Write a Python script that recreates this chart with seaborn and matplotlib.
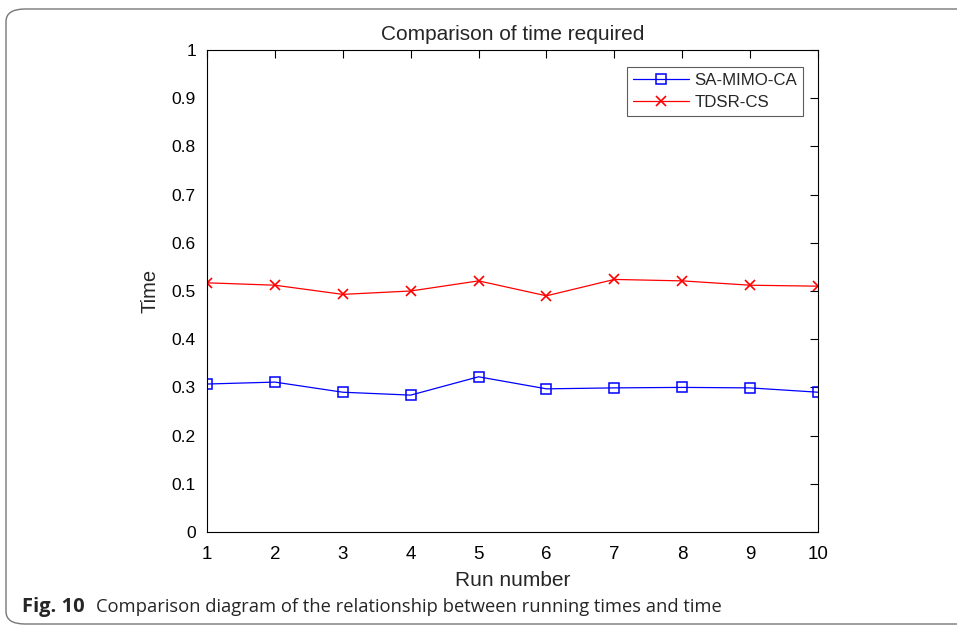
import matplotlib
matplotlib.use("Agg")
import matplotlib.pyplot as plt
from matplotlib.patches import FancyBboxPatch
import seaborn as sns
import pandas as pd

run_number = [1, 2, 3, 4, 5, 6, 7, 8, 9, 10]
sa_mimo_ca = [0.307, 0.311, 0.290, 0.284, 0.322, 0.297, 0.299, 0.300, 0.299, 0.290]
tdsr_cs = [0.517, 0.512, 0.493, 0.500, 0.521, 0.490, 0.524, 0.521, 0.512, 0.510]
y_ticks = [0, 0.1, 0.2, 0.3, 0.4, 0.5, 0.6, 0.7, 0.8, 0.9, 1]
y_tick_labels = ["0", "0.1", "0.2", "0.3", "0.4", "0.5", "0.6", "0.7", "0.8", "0.9", "1"]

sns.set_theme(style="white")
plt.rcParams["font.family"] = ["Liberation Sans", "DejaVu Sans"]

fig = plt.figure(figsize=(9.57, 6.26), dpi=100)
ax = fig.add_axes([207 / 957, 1 - 532 / 626, (818 - 207) / 957, (532 - 50) / 626])

df_a = pd.DataFrame({"run": run_number, "time": sa_mimo_ca})
df_b = pd.DataFrame({"run": run_number, "time": tdsr_cs})

sns.lineplot(data=df_a, x="run", y="time", ax=ax, color="#0000ff", lw=0.9,
             marker="s", markersize=7, markerfacecolor="none",
             markeredgecolor="#0000ff", markeredgewidth=1.1, label="SA-MIMO-CA")
sns.lineplot(data=df_b, x="run", y="time", ax=ax, color="#ff0000", lw=0.9,
             marker="x", markersize=7, markeredgecolor="#ff0000",
             markeredgewidth=1.2, label="TDSR-CS")

ax.set_xlim(1, 10)
ax.set_ylim(0, 1)
ax.set_xticks(run_number)
ax.set_xticklabels([str(r) for r in run_number])
ax.set_yticks(y_ticks)
ax.set_yticklabels(y_tick_labels)
ax.tick_params(direction="in", length=6, width=0.8, top=True, right=True,
               colors="black")
ax.tick_params(axis="x", pad=10, labelsize=13.5)
ax.tick_params(axis="y", pad=8, labelsize=12.5)
for s in ax.spines.values():
    s.set_color("black")
    s.set_linewidth(0.8)

ax.set_xlabel("Run number", fontsize=15, labelpad=6)
ax.set_ylabel("Time", fontsize=14.5, labelpad=9)
ax.set_title("Comparison of time required", fontsize=15, pad=7)

leg = ax.legend(loc="upper right", bbox_to_anchor=(0.9755, 0.965), fontsize=12.2,
                frameon=True, fancybox=False, borderpad=0.35, handlelength=3.3,
                handletextpad=0.3, labelspacing=0.4, borderaxespad=0)
leg.get_frame().set_edgecolor("#333333")
leg.get_frame().set_linewidth(0.8)

# Outer rounded frame around the figure panel
frame = FancyBboxPatch((6 / 957, 2 / 626), 1.2, 1 - 11 / 626,
                       boxstyle="round,pad=0,rounding_size=0.02",
                       transform=fig.transFigure, fill=False,
                       edgecolor="#777777", lw=1.0, clip_on=False)
fig.patches.append(frame)

fig.text(22 / 957, 1 - 607 / 626, "Fig. 10", fontsize=14.5,
         fontweight="bold", family=["Open Sans", "DejaVu Sans"], va="center")
fig.text(96 / 957, 1 - 607 / 626,
         "Comparison diagram of the relationship between running times and time",
         fontsize=13.2, family=["Open Sans", "DejaVu Sans"], va="center")

fig.savefig("out.png", dpi=100)
